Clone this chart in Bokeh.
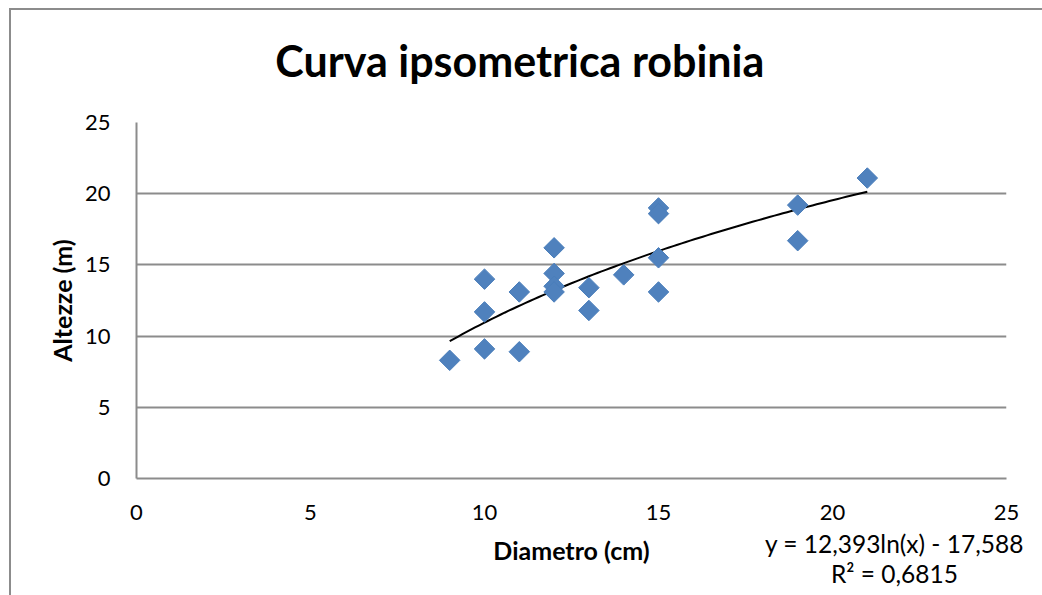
import numpy as np
from bokeh.plotting import figure
from bokeh.models import Range1d, FixedTicker, Label
from bokeh.embed import file_html
from bokeh.resources import INLINE

# ---- data ----
title_text = "Curva ipsometrica robinia"
x_label = "Diametro (cm)"
y_label = "Altezze (m)"
diametro = [9, 10, 10, 10, 11, 11, 12, 12, 12, 12, 13, 13, 14, 15, 15, 15, 15, 19, 19, 21]
altezza = [8.3, 14.0, 11.7, 9.1, 13.1, 8.9, 16.2, 14.4, 13.5, 13.1, 13.4, 11.8, 14.3,
           19.0, 18.6, 15.5, 13.1, 19.2, 16.7, 21.1]
ticks = [0, 5, 10, 15, 20, 25]
trend_a = 12.393
trend_b = -17.588
eq_text = "y = 12,393ln(x) - 17,588"
r2_text = "R² = 0,6815"

FONT = "Lato"
GRID = "#8c8c8c"

p = figure(width=1042, height=595, output_backend="svg", toolbar_location=None,
           x_range=Range1d(0, 25), y_range=Range1d(0, 25),
           min_border_left=136, min_border_right=36, min_border_top=122, min_border_bottom=117)
p.outline_line_color = None
p.background_fill_color = "white"
p.border_fill_color = "white"
p.border_fill_alpha = 0
# outer chart border (left and top edges visible in the reference)
p.styles = {
    "background-color": "white",
    "background-image": "linear-gradient(#8c8c8c,#8c8c8c), linear-gradient(#8c8c8c,#8c8c8c)",
    "background-size": "2px 100%, 100% 2px",
    "background-position": "9px 8px, 9px 8px",
    "background-repeat": "no-repeat",
}

for ax in (p.xaxis[0], p.yaxis[0]):
    ax.ticker = FixedTicker(ticks=ticks)
    ax.major_tick_in = 0
    ax.major_tick_out = 0
    ax.minor_tick_in = 0
    ax.minor_tick_out = 0
    ax.axis_line_color = GRID
    ax.axis_line_width = 2
    ax.major_label_text_font = FONT
    ax.major_label_text_font_size = "22px"
    ax.major_label_text_color = "black"
    ax.axis_label_text_font = FONT
    ax.axis_label_text_font_style = "bold"
    ax.axis_label_text_font_size = "25px"
    ax.axis_label_text_color = "black"

p.xaxis.axis_label = x_label
p.yaxis.axis_label = y_label
p.xaxis.major_label_standoff = 26
p.yaxis.major_label_standoff = 26
p.xaxis.axis_label_standoff = 12
p.yaxis.axis_label_standoff = 5

p.xgrid.grid_line_color = None
p.ygrid.ticker = FixedTicker(ticks=ticks)
p.ygrid.grid_line_color = GRID
p.ygrid.grid_line_width = 2

# texts placed in a side panel (side-panel annotations are not clipped to the frame)
p.add_layout(Label(x=3.99, y=29.35, text=title_text, text_align="left",
                   text_baseline="alphabetic", text_font=FONT, text_font_style="bold",
                   text_font_size="43px", text_color="black"), "above")
p.add_layout(Label(x=21.78, y=-4.56, text=eq_text, text_align="center",
                   text_baseline="alphabetic", text_font=FONT,
                   text_font_size="24.5px", text_color="black"), "above")
p.add_layout(Label(x=21.78, y=-6.67, text=r2_text, text_align="center",
                   text_baseline="alphabetic", text_font=FONT,
                   text_font_size="24.5px", text_color="black"), "above")

# trend line
tx = np.linspace(min(diametro), max(diametro), 100)
ty = trend_a * np.log(tx) + trend_b
p.line(tx, ty, line_color="black", line_width=2)

# points (square rotated 45 deg = Excel diamond)
p.scatter(diametro, altezza, marker="square", angle=np.pi / 4, size=14.5,
          fill_color="#4F81BD", line_color="#4A7EBB", line_width=1)

open("out.html", "w").write(file_html(p, INLINE))
